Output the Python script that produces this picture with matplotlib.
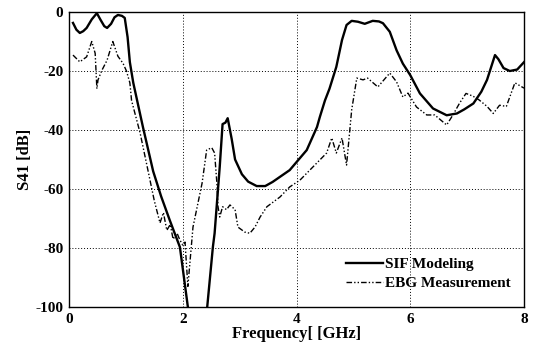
import numpy as np
import matplotlib
matplotlib.use("Agg")
from matplotlib import pyplot as plt

# SIF modeling curve (solid)
sif_f = [0.07, 0.13, 0.19, 0.25, 0.31, 0.40, 0.49, 0.55, 0.62, 0.67, 0.74, 0.80, 0.86, 0.93, 0.98,
         1.03, 1.07, 1.13, 1.30, 1.48, 1.62, 1.77, 1.95, 2.09, 2.12,
         2.40, 2.43, 2.53, 2.56, 2.65, 2.70, 2.75, 2.79, 2.82, 2.86, 2.92, 3.04, 3.15, 3.30,
         3.45, 3.58, 3.88, 4.18, 4.36, 4.41, 4.50, 4.58, 4.70, 4.80, 4.88, 4.97, 5.08,
         5.20, 5.34, 5.45, 5.52, 5.64, 5.76, 5.87, 6.00, 6.17, 6.40, 6.64, 6.82, 6.95,
         7.11, 7.25, 7.35, 7.45, 7.49, 7.55, 7.64, 7.75, 7.88, 8.00]
sif_db = [-3.7, -6.0, -7.1, -6.5, -5.4, -2.5, -0.4, -2.5, -4.8, -5.4, -4.0, -1.8, -1.0, -1.3, -2.0,
          -8.5, -17.0, -24.0, -39.0, -54.0, -62.5, -70.5, -79.7, -100.0, -105.0,
          -105.0, -100.0, -79.6, -75.0, -52.5, -38.0, -37.5, -36.0, -39.0, -43.0, -50.0, -55.0, -57.5, -59.0,
          -59.0, -57.6, -53.6, -46.8, -39.0, -35.6, -30.0, -26.0, -18.6, -9.5, -4.4, -3.0, -3.3,
          -4.0, -3.0, -3.2, -3.8, -6.7, -13.0, -17.5, -21.4, -27.6, -32.7, -35.0, -34.4, -33.0,
          -31.0, -27.0, -23.0, -17.0, -14.6, -16.0, -19.0, -20.0, -19.5, -17.0]

# EBG measurement curve (dash-dot)
ebg_f = [0.07, 0.19, 0.31, 0.40, 0.46, 0.49, 0.51, 0.58, 0.67, 0.77, 0.86, 0.95, 1.01,
         1.07, 1.10, 1.25, 1.37, 1.50, 1.60, 1.66, 1.72, 1.78, 1.83, 1.90, 1.95, 2.00, 2.04,
         2.09, 2.18, 2.34, 2.42, 2.51, 2.56, 2.60, 2.62, 2.65, 2.70, 2.77, 2.83, 2.92,
         2.97, 3.09, 3.18, 3.27, 3.36, 3.48, 3.71, 3.88, 4.06, 4.29, 4.53, 4.62, 4.70, 4.80, 4.88,
         4.97, 5.06, 5.17, 5.25, 5.43, 5.64, 5.76, 5.87, 5.96, 6.11, 6.29, 6.43,
         6.64, 6.75, 6.87, 6.98, 7.10, 7.21, 7.35, 7.46, 7.57, 7.69, 7.84, 8.00]
ebg_db = [-14.6, -16.9, -15.2, -10.0, -14.0, -26.0, -23.0, -19.7, -16.3, -10.0, -15.0, -17.4, -20.0,
          -24.0, -30.0, -41.0, -52.0, -64.0, -71.5, -68.0, -74.0, -72.0, -77.0, -75.0, -77.3, -79.0, -78.0,
          -93.0, -72.9, -58.0, -46.8, -46.0, -47.8, -58.0, -66.0, -69.5, -66.0, -67.0, -65.4, -67.0,
          -72.9, -74.6, -75.0, -72.9, -69.5, -66.0, -62.7, -59.3, -57.0, -52.5, -47.8, -42.7, -47.8, -42.7, -51.9,
          -33.2, -22.4, -23.0, -22.4, -25.4, -20.7, -23.7, -28.8, -27.5, -32.2, -34.9, -34.9,
          -38.3, -34.9, -30.8, -27.6, -28.5, -29.8, -32.0, -34.4, -31.6, -32.0, -24.0, -25.8]

xticks = [0, 2, 4, 6, 8]
yticks = [0, -20, -40, -60, -80, -100]

plt.rcParams['font.family'] = ['Liberation Serif', 'DejaVu Serif']
plt.rcParams['font.weight'] = 'bold'

fig = plt.figure(figsize=(5.37, 3.49), dpi=100)
ax = fig.add_axes([0.1285, 0.1203, 0.8473, 0.8453])

ax.plot(sif_f, sif_db, color='black', lw=1.7, ls='-', label='SIF Modeling')
ax.plot(ebg_f, ebg_db, color='black', lw=1.0, ls=(0, (4, 1.5, 1, 1.5, 1, 1.5)),
        label='EBG Measurement')

ax.set_xlim(0, 8)
ax.set_ylim(-100, 0)
ax.set_xticks(xticks)
ax.set_yticks(yticks)
ax.set_xticklabels([str(t) for t in xticks], fontsize=11, fontweight='bold')
ax.set_yticklabels([str(t) for t in yticks], fontsize=11, fontweight='bold')
ax.tick_params(direction='in', length=0, pad=4)
ax.grid(True, color='black', ls=(0, (1, 2)), lw=0.7)
for s in ax.spines.values():
    s.set_linewidth(1.0)

ax.set_xlabel('Frequency[ [GHz]', fontsize=12, fontweight='bold', labelpad=0)
ax.set_ylabel('S41 [dB]', fontsize=12, fontweight='bold', labelpad=2)

leg = ax.legend(loc='lower right', frameon=False, fontsize=11, handlelength=2.4,
                handletextpad=0.15, borderaxespad=0.3, labelspacing=0.35,
                bbox_to_anchor=(0.995, 0.02))
for t in leg.get_texts():
    t.set_fontweight('bold')

fig.savefig('out.png', dpi=100)
